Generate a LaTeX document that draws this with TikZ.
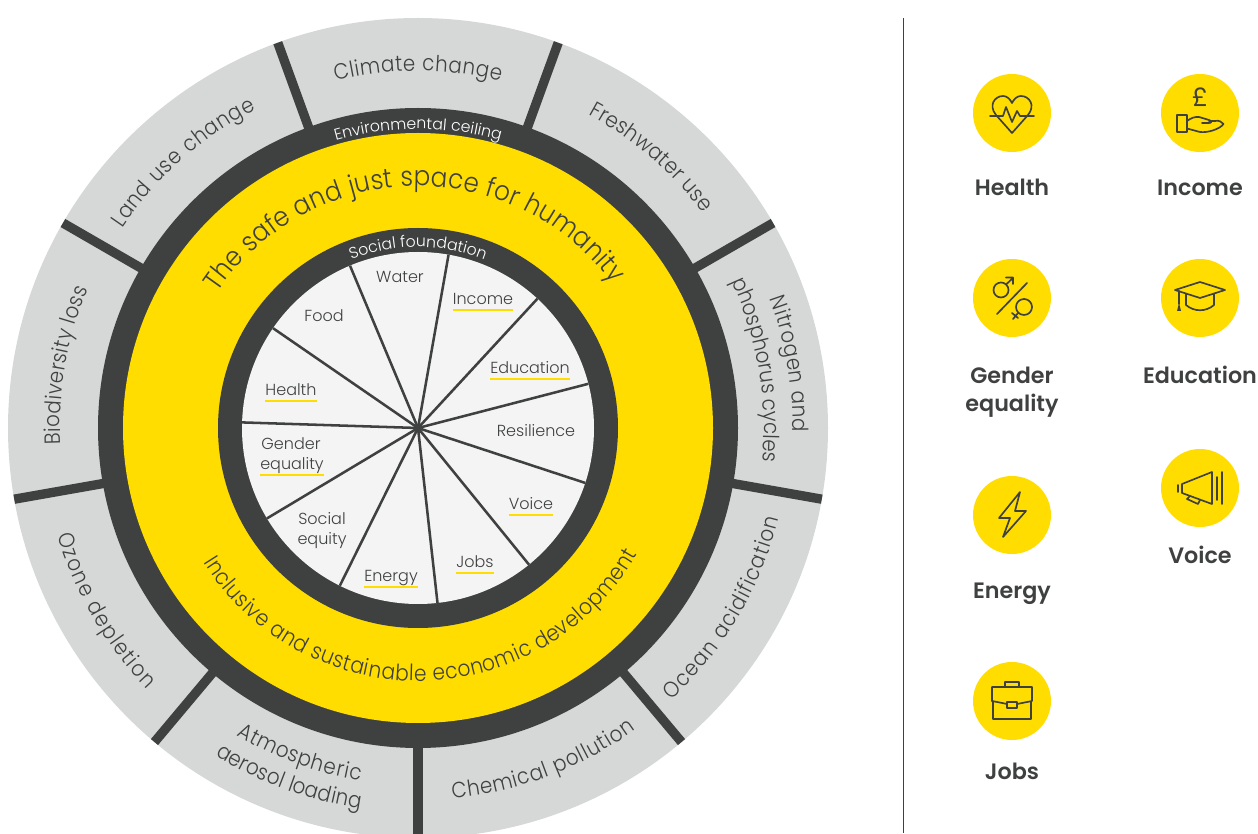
\documentclass[tikz,border=0pt]{standalone}
\usepackage{fontspec}
\setmainfont{Poppins Light}[BoldFont={Poppins SemiBold}]
\newfontfamily\narrowfam{Poppins Light}[FakeStretch=0.9]
\newfontfamily\iconfam{Poppins}
\usetikzlibrary{calc,decorations.text}

\definecolor{inkgrey}{HTML}{3F4140}
\definecolor{ringgrey}{HTML}{D6D8D7}
\definecolor{coregrey}{HTML}{F4F4F4}
\definecolor{sunyellow}{HTML}{FFDD00}

\newcommand{\pxfont}[1]{\fontsize{#1}{#1}\selectfont}
\newcommand{\ringtext}[5]{% font, radius, from, to, text
    \path[decorate,decoration={text along path,text align=center,text={|#1|#5}}]
        (O) ++(#3:#2) arc[start angle=#3,end angle=#4,radius=#2];}
\newcommand{\fittext}[5]{% same, spread over the whole arc
    \path[decorate,decoration={text along path,text align=fit to path,text={|#1|#5}}]
        (O) ++(#3:#2) arc[start angle=#3,end angle=#4,radius=#2];}

\tikzset{
    corelabel/.style={text=inkgrey,font=\pxfont{12},inner sep=0pt,text height=9pt,text depth=4pt},
    coreline/.style={draw=sunyellow,line width=1.8},
    iconball/.style={circle,fill=sunyellow,minimum size=58.5pt,inner sep=0pt},
    iconlabel/.style={text=inkgrey,font=\pxfont{16.7}\bfseries,inner sep=0pt,anchor=base},
    iconline/.style={draw=inkgrey,line width=1.25pt,line join=round,line cap=round}
}

\begin{document}
\begin{tikzpicture}[x=0.75pt,y=0.75pt]
    \useasboundingbox (0,0) rectangle (1258,833);
    \clip (0,0) rectangle (1258,833);
    \coordinate (O) at (418,405);

    % rings
    \fill[ringgrey] (O) circle[radius=410];
    \foreach \a in {30,70,...,350}
        \draw[inkgrey,line width=7pt] (O) -- ($(O)+(\a:410)$);
    \fill[inkgrey] (O) circle[radius=320];
    \fill[sunyellow] (O) circle[radius=295];
    \fill[inkgrey] (O) circle[radius=200];
    \fill[coregrey] (O) circle[radius=176];
    \foreach \k in {0,...,10}
        \draw[inkgrey,line width=1.9pt] (O) -- ($(O)+(80+32.727*\k:176)$);

    % outer ring labels
    \def\ringfont{\color{inkgrey}\narrowfam\pxfont{16.5}}
    \fittext{\ringfont}{357}{103.4}{76.6}{Climate change}
    \fittext{\ringfont}{357}{61.5}{37}{Freshwater use}
    \fittext{\ringfont}{357}{146}{117}{Land use change}
    \fittext{\ringfont}{358}{182.6}{157.2}{Biodiversity loss}
    \fittext{\ringfont}{375}{20.2}{-0.6}{Nitrogen and}
    \fittext{\ringfont}{346}{25}{-5.6}{phosphorus cycles}
    \fittext{\ringfont}{372}{-47}{-14}{Ocean acidification}
    \fittext{\ringfont}{372}{-84.7}{-54.2}{Chemical pollution}
    \fittext{\ringfont}{357}{239.4}{260.7}{Atmospheric}
    \fittext{\ringfont}{385}{238.2}{261.4}{aerosol loading}
    \fittext{\ringfont}{376}{196.6}{224}{Ozone depletion}

    % captions on the dark rings and the yellow band
    \ringtext{\color{white}\pxfont{11.8}}{299}{120}{60}{Environmental ceiling}
    \ringtext{\color{white}\pxfont{11.8}}{181}{130}{50}{Social foundation}
    \fittext{\color{inkgrey}\narrowfam\pxfont{20.5}}{242}{146}{36.5}{The safe and just space for humanity}
    \fittext{\color{inkgrey}\narrowfam\pxfont{16.8}}{253}{212}{330}{Inclusive and sustainable economic development}

    % core labels
    \node[corelabel] (water) at (400,554) {Water};
    \node[corelabel] (food) at (324,515) {Food};
    \node[corelabel] (income) at (483,532) {Income};
    \node[corelabel] (education) at (530,463) {Education};
    \node[corelabel] (resilience) at (536,400) {Resilience};
    \node[corelabel] (voice) at (531,327) {Voice};
    \node[corelabel] (jobs) at (475,269) {Jobs};
    \node[corelabel] (energy) at (391,255) {Energy};
    \node[corelabel] (social) at (322,312) {Social};
    \node[corelabel] (equity) at (322,292) {equity};
    \node[corelabel] (gender) at (291,387) {Gender};
    \node[corelabel] (equality) at (292,367) {equality};
    \node[corelabel] (health) at (291,441) {Health};
    \foreach \n in {income,education,voice,jobs,energy,equality,health}
        \draw[coreline] (\n.south west) -- (\n.south east);

    % divider and icon key
    \coordinate (top) at (903,815);
    \coordinate (bottom) at (903,0);
    \draw[inkgrey,line width=0.75pt] (top) -- (bottom);

    \node[iconball] (healthicon) at (1012,720) {};
    \node[iconball] (incomeicon) at (1200,720) {};
    \node[iconball] (gendericon) at (1012,535) {};
    \node[iconball] (educationicon) at (1200,535) {};
    \node[iconball] (energyicon) at (1012,318) {};
    \node[iconball] (voiceicon) at (1200,345) {};
    \node[iconball] (jobsicon) at (1012,132) {};

    \node[iconlabel] at (1012,637) {Health};
    \node[iconlabel] at (1200,637) {Income};
    \node[iconlabel] at (1012,449) {Gender};
    \node[iconlabel] at (1012,421) {equality};
    \node[iconlabel] at (1200,449) {Education};
    \node[iconlabel] at (1012,234) {Energy};
    \node[iconlabel] at (1200,269) {Voice};
    \node[iconlabel] at (1012,54) {Jobs};

    % health
    \begin{scope}[shift={(healthicon.center)}]
        \draw[iconline] (0,-20) -- (-16,-2) .. controls (-24,8) and (-17,17) .. (-9,17)
            .. controls (-5,17) and (-2,14) .. (0,10) .. controls (2,14) and (5,17) .. (9,17)
            .. controls (17,17) and (24,8) .. (16,-2) -- cycle;
        \draw[iconline] (-22,-3) -- (-9,-3) -- (-6,6) -- (0,-9) -- (5,2) -- (8,-3) -- (22,-3);
    \end{scope}
    % income
    \begin{scope}[shift={(incomeicon.center)}]
        \node[text=inkgrey,font=\iconfam\pxfont{19.5},inner sep=0pt] at (0,16) {£};
        \draw[iconline] (-23,-2) rectangle (-13,-19);
        \draw[iconline] (-13,-8) .. controls (-9,-5) and (-5,-3.5) .. (-1,-4) -- (9,-7)
            .. controls (12,-8) and (12,-10) .. (9,-10) -- (2,-10);
        \draw[iconline] (9,-8) -- (15,-8) .. controls (19,-7) and (22,-9) .. (23.5,-11)
            .. controls (20,-16) and (8,-20) .. (0,-19) -- (-13,-15.5);
    \end{scope}
    % gender equality
    \begin{scope}[shift={(gendericon.center)}]
        \draw[iconline] (-11,8) circle[radius=7.5];
        \draw[iconline] (-6,13.5) -- (1,20) (-6,20.5) -- (1,20.5) -- (1,14);
        \draw[iconline] (15,15) -- (-15,-16);
        \draw[iconline] (12,-9) circle[radius=8];
        \draw[iconline] (6,-15) -- (1,-21) (0,-15) -- (6,-20);
    \end{scope}
    % education
    \begin{scope}[shift={(educationicon.center)}]
        \draw[iconline] (-25,8) -- (0,16) -- (25,8) -- (0,0) -- cycle;
        \draw[iconline] (-14,4) -- (-14,-7) .. controls (-6,-14) and (6,-14) .. (14,-7) -- (14,4);
        \draw[iconline] (-21,7) -- (-21,-6);
        \fill[inkgrey] (-21,-5) -- (-19,-13) -- (-23,-13) -- cycle;
    \end{scope}
    % energy
    \begin{scope}[shift={(energyicon.center)}]
        \draw[iconline] (8,23) -- (-13,-3) -- (-2,-3) -- (-9,-22) -- (14,4) -- (3,4) -- cycle;
    \end{scope}
    % voice
    \begin{scope}[shift={(voiceicon.center)}]
        \draw[iconline] (-18,4) -- (12,16) -- (12,-16) -- (-18,-5) -- cycle;
        \draw[iconline] (-22,3) -- (-22,-4);
        \draw[iconline] (17,11) -- (17,-12);
        \draw[iconline] (22,16) -- (22,-16);
        \draw[iconline] (-10,-8) -- (-13,-11) -- (-2,-16) -- (0,-12);
    \end{scope}
    % jobs
    \begin{scope}[shift={(jobsicon.center)}]
        \draw[iconline] (-7,14) -- (-7,19) -- (7,19) -- (7,14);
        \draw[iconline] (-20,0) -- (-20,14) -- (20,14) -- (20,0) -- (5,-3);
        \draw[iconline] (-5,-3) -- (-20,0);
        \draw[iconline] (-19,-1) -- (-19,-18) -- (19,-18) -- (19,-1);
        \draw[iconline] (-5,-1) rectangle (5,-7);
    \end{scope}
\end{tikzpicture}
\end{document}
